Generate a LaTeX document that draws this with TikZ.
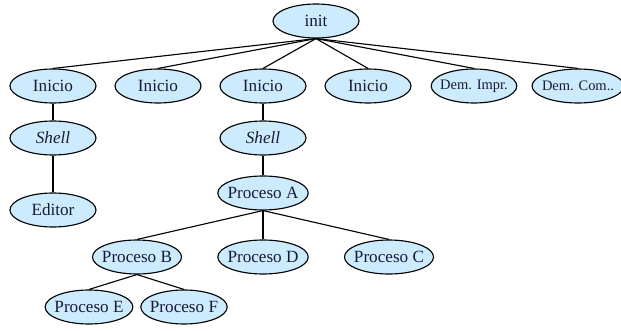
\documentclass[tikz,border=0pt]{standalone}
\usepackage{fontspec}
\setmainfont{Liberation Serif}
\usetikzlibrary{shapes.geometric}
\definecolor{fondo}{RGB}{204,235,255}
\definecolor{letra}{RGB}{25,25,60}
\begin{document}
\begin{tikzpicture}
\tikzset{proc/.style={draw, ellipse, fill=fondo, text=letra, thick, inner xsep=-2.5pt, inner ysep=0pt, minimum width=2.15cm, minimum height=0.85cm, font=\fontsize{12.2}{14}\selectfont}}
\tikzset{dem/.style={proc, minimum width=2.08cm, font=\fontsize{10.3}{12}\selectfont}}
\useasboundingbox (0, 0) rectangle (15.525, 8.25);
\node[proc] (init) at (7.9, 7.725) {init};
\node[proc] (I1) at (1.325, 6.1) {Inicio};
\node[proc] (I2) at (3.95, 6.1) {Inicio};
\node[proc] (I3) at (6.575, 6.1) {Inicio};
\node[proc] (I4) at (9.2, 6.1) {Inicio};
\node[dem] (DI) at (11.85, 6.1) {Dem. Impr.};
\node[dem] (DC) at (14.45, 6.1) {Dem. Com..};
\node[proc] (S1) at (1.325, 4.8) {\textit{Shell}};
\node[proc] (S2) at (6.575, 4.8) {\textit{Shell}};
\node[proc] (Ed) at (1.325, 3.0) {Editor};
\node[proc] (PA) at (6.575, 3.425) {Proceso A};
\node[proc] (PB) at (3.425, 1.825) {Proceso B};
\node[proc] (PD) at (6.575, 1.825) {Proceso D};
\node[proc] (PC) at (9.725, 1.825) {Proceso C};
\node[proc] (PE) at (2.225, 0.575) {Proceso E};
\node[proc] (PF) at (4.6, 0.575) {Proceso F};
\draw[thick] (init.south) -- (I1.north);
\draw[thick] (init.south) -- (I2.north);
\draw[thick] (init.south) -- (I3.north);
\draw[thick] (init.south) -- (I4.north);
\draw[thick] (init.south) -- (DI.north);
\draw[thick] (init.south) -- (DC.north);
\draw[thick] (I1) -- (S1);
\draw[thick] (S1) -- (Ed);
\draw[thick] (I3) -- (S2);
\draw[thick] (S2) -- (PA);
\draw[thick] (PA.south) -- (PB.north);
\draw[thick] (PA.south) -- (PD.north);
\draw[thick] (PA.south) -- (PC.north);
\draw[thick] (PB.south) -- (PE.north);
\draw[thick] (PB.south) -- (PF.north);
\end{tikzpicture}
\end{document}
